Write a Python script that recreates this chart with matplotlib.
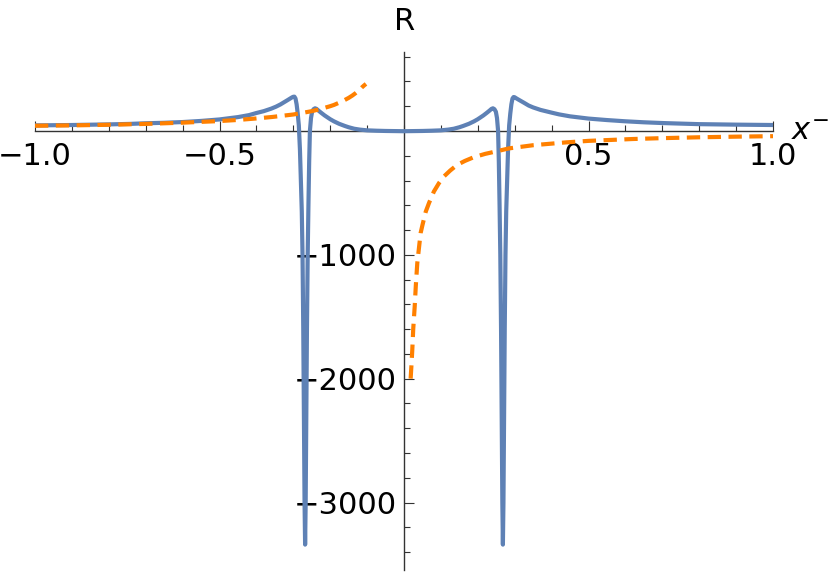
import numpy as np
import matplotlib.pyplot as plt
from matplotlib.ticker import FixedLocator, MultipleLocator

# blue curve
x_blue = [-1.0, -0.9, -0.8, -0.743, -0.7, -0.65, -0.6, -0.55, -0.5, -0.45, -0.42, -0.4,
          -0.38, -0.36, -0.347, -0.335, -0.325, -0.315, -0.308, -0.303, -0.3, -0.297,
          -0.294, -0.291, -0.288, -0.285, -0.282, -0.279, -0.277, -0.275, -0.273,
          -0.271, -0.2695, -0.268, -0.2665, -0.265, -0.263, -0.261, -0.259, -0.257, -0.255,
          -0.252, -0.249, -0.245, -0.241, -0.237, -0.232, -0.225, -0.215, -0.2, -0.19,
          -0.176, -0.16, -0.15, -0.135, -0.12, -0.1, -0.075, -0.05, -0.025,
          0.0,
          0.025, 0.05, 0.075, 0.1, 0.12, 0.135, 0.15, 0.16, 0.176, 0.19, 0.2, 0.215,
          0.225, 0.232, 0.237, 0.241, 0.245, 0.249, 0.252, 0.255,
          0.257, 0.259, 0.261, 0.263, 0.265, 0.2665, 0.268, 0.2695, 0.271, 0.273, 0.275,
          0.277, 0.279, 0.282, 0.285, 0.288, 0.291, 0.294, 0.297, 0.3, 0.303, 0.308,
          0.315, 0.325, 0.338, 0.35, 0.37, 0.4, 0.42, 0.45, 0.5, 0.55, 0.6, 0.65, 0.7,
          0.743, 0.8, 0.9, 1.0]
r_blue = [45, 48, 53, 57, 62, 66, 72, 81, 93, 112, 128, 145,
          160, 180, 196, 214, 232, 250, 263, 272, 276, 277,
          262, 215, 140, 45, -150, -450, -650, -1000, -1600,
          -2400, -3000, -3340, -3000, -2400, -1600, -1000, -600, -250, 0,
          105, 155, 176, 183, 178, 165, 148, 125, 95, 78,
          58, 40, 30, 18, 11, 5, 2, 0, -1,
          -2,
          -1, 0, 2, 5, 11, 18, 30, 40, 58, 78, 95, 125,
          148, 165, 178, 183, 176, 155, 105, 0,
          -250, -600, -1000, -1600, -2400, -3000, -3340, -3000, -2400, -1600, -1000,
          -650, -450, -150, 45, 140, 215, 262, 274, 272, 266, 257,
          245, 228, 205, 190, 170, 148, 134, 118, 100, 88, 78, 70, 64,
          60, 55, 51, 48]

# orange dashed curve, two branches
x_or_left = [-1.0, -0.9, -0.8, -0.743, -0.7, -0.6, -0.5, -0.45, -0.4, -0.357, -0.3, -0.284,
             -0.25, -0.23, -0.2, -0.19, -0.176, -0.165, -0.15, -0.14, -0.13, -0.12,
             -0.114, -0.108, -0.103]
r_or_left = [42, 45, 50, 54, 57, 67, 80, 89, 101, 113, 133, 141,
             160, 174, 200, 210, 228, 243, 267, 286, 308, 333,
             352, 368, 380]
x_or_right = [0.018, 0.02, 0.0225, 0.025, 0.029, 0.032, 0.036, 0.04, 0.045, 0.05, 0.059,
              0.068, 0.081, 0.095, 0.108, 0.125, 0.144, 0.165, 0.189, 0.22, 0.25,
              0.284, 0.35, 0.44, 0.5, 0.62, 0.7, 0.8, 0.9, 1.0]
r_or_right = [-2000, -1900, -1766, -1600, -1417, -1250, -1067, -960, -825, -760, -651,
              -580, -489, -420, -368, -320, -274, -242, -212, -185, -165,
              -141, -115, -92, -80, -65, -58, -51, -46, -42]

xtick_major = [-1.0, -0.5, 0.5, 1.0]
xtick_labels = ['\u22121.0', '\u22120.5', '0.5', '1.0']
ytick_major = [-3000, -2000, -1000]
ytick_labels = ['\u22123000', '\u22122000', '\u22121000']

blue = '#5e81b5'
orange = '#ff8000'

fig = plt.figure(figsize=(8.3, 5.72), dpi=100)
ax = fig.add_axes([35 / 830, 1 - 570 / 572, 738 / 830, (570 - 51.7) / 572])

ax.plot(x_blue, r_blue, color=blue, lw=3.0, zorder=3,
        solid_joinstyle='round', solid_capstyle='round')
ax.plot(x_or_left, r_or_left, color=orange, lw=3.0, dashes=(3.2, 1.8), zorder=4)
ax.plot(x_or_right, r_or_right, color=orange, lw=3.0, dashes=(3.2, 1.8), zorder=4)

ax.set_xlim(-1.0, 1.0)
ax.set_ylim(-3545, 640)

for s in ['top', 'right']:
    ax.spines[s].set_visible(False)
for s in ['left', 'bottom']:
    ax.spines[s].set_position('zero')
    ax.spines[s].set_color('#333333')
    ax.spines[s].set_linewidth(1.0)

ax.xaxis.set_major_locator(FixedLocator(xtick_major))
ax.set_xticklabels(xtick_labels)
ax.xaxis.set_minor_locator(MultipleLocator(0.1))
ax.yaxis.set_major_locator(FixedLocator(ytick_major))
ax.set_yticklabels(ytick_labels)
ax.yaxis.set_minor_locator(MultipleLocator(200))

ax.tick_params(which='both', direction='in', color='#333333', width=0.8, labelsize=22)
ax.tick_params(which='major', length=7)
ax.tick_params(which='minor', length=4)
ax.tick_params(axis='x', pad=8)
ax.tick_params(axis='y', pad=5)

fig.text(405 / 830, 1 - 22 / 572, 'R', ha='center', va='center', fontsize=22)
fig.text(810 / 830, 1 - 131 / 572, r'$x^{-}$', ha='center', va='center', fontsize=22)

fig.savefig('out.png', dpi=100)
